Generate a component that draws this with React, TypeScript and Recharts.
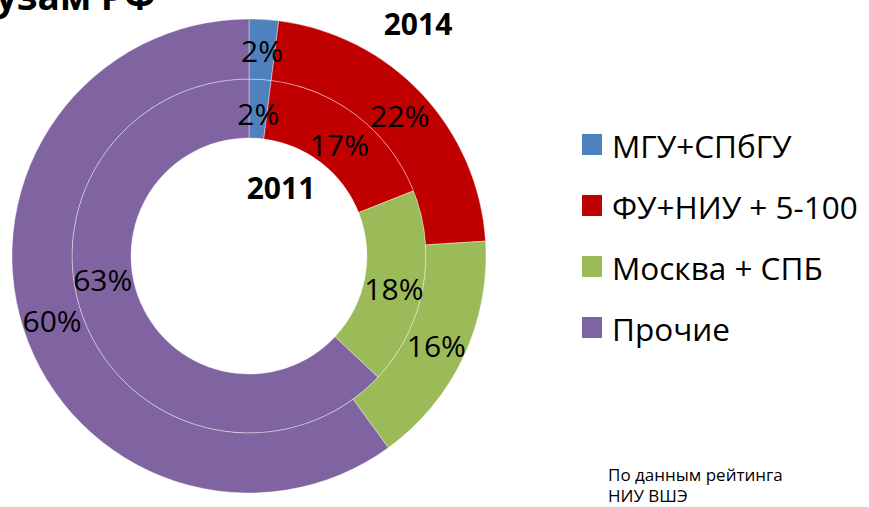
import React from "react";
import { PieChart, Pie, Cell } from "recharts";

const categories = ["МГУ+СПбГУ", "ФУ+НИУ + 5-100", "Москва + СПБ", "Прочие"];
const colors = ["#4F81BD", "#C00000", "#9BBB59", "#8064A2"];
const values2011 = [2, 17, 18, 63];
const values2014 = [2, 22, 16, 60];

const data2011 = categories.map((name, i) => ({ name, value: values2011[i] }));
const data2014 = categories.map((name, i) => ({ name, value: values2014[i] }));

const FONT = "'Open Sans', 'Noto Sans', sans-serif";
const RAD = Math.PI / 180;

// Excel сдвинул подпись "63%" вверх, чтобы не налезала на "60%"
const innerAngleShift = [0, 0, 0, -16];

const makeLabel = (shift: number[], dy: number) => (p: any) => {
  const r = (p.innerRadius + p.outerRadius) / 2;
  const a = (p.midAngle + (shift[p.index] || 0)) * RAD;
  const x = p.cx + r * Math.cos(-a);
  const y = p.cy + r * Math.sin(-a) + dy;
  return (
    <text x={x} y={y} fill="#000" fontSize={30} fontFamily={FONT}
      textAnchor="middle" dominantBaseline="central">
      {`${p.value}%`}
    </text>
  );
};

export default function App() {
  return (
    <div style={{ position: "fixed", left: 0, top: 0, width: 869, height: 507, background: "#fff", overflow: "hidden" }}>
      <PieChart width={869} height={507} margin={{ top: 0, right: 0, bottom: 0, left: 0 }}>
        <Pie data={data2011} dataKey="value" nameKey="name" cx={249} cy={256}
          innerRadius={118} outerRadius={177} startAngle={90} endAngle={-270}
          stroke="rgba(255,255,255,0.5)" strokeWidth={0.75}
          label={makeLabel(innerAngleShift, 5)} labelLine={false} isAnimationActive={false}>
          {data2011.map((d, i) => <Cell key={d.name} fill={colors[i]} />)}
        </Pie>
        <Pie data={data2014} dataKey="value" nameKey="name" cx={249} cy={256}
          innerRadius={177} outerRadius={237} startAngle={90} endAngle={-270}
          stroke="rgba(255,255,255,0.5)" strokeWidth={0.75}
          label={makeLabel([], 1)} labelLine={false} isAnimationActive={false}>
          {data2014.map((d, i) => <Cell key={d.name} fill={colors[i]} />)}
        </Pie>
      </PieChart>

      {/* подписи, легенда, источник */}
      <svg width={869} height={507} style={{ position: "absolute", left: 0, top: 0, pointerEvents: "none" }}>
        <text x={-4} y={10} fontSize={37} fontWeight={700} fontFamily={FONT} fill="#000">узам РФ</text>
        <text x={418} y={35} fontSize={30} fontWeight={700} fontFamily={FONT} fill="#000" textAnchor="middle">2014</text>
        <text x={281} y={199} fontSize={30} fontWeight={700} fontFamily={FONT} fill="#000" textAnchor="middle">2011</text>
        {categories.map((c, i) => (
          <g key={c}>
            <rect x={582} y={134 + i * 61} width={20} height={21} fill={colors[i]} />
            <text x={612} y={145 + i * 61} fontSize={31.5} fontFamily={FONT} fill="#000" dominantBaseline="central">{c}</text>
          </g>
        ))}
        <text x={608} y={481} fontSize={17} fontFamily={FONT} fill="#000">По данным рейтинга</text>
        <text x={608} y={502} fontSize={17} fontFamily={FONT} fill="#000">НИУ ВШЭ</text>
      </svg>
    </div>
  );
}
